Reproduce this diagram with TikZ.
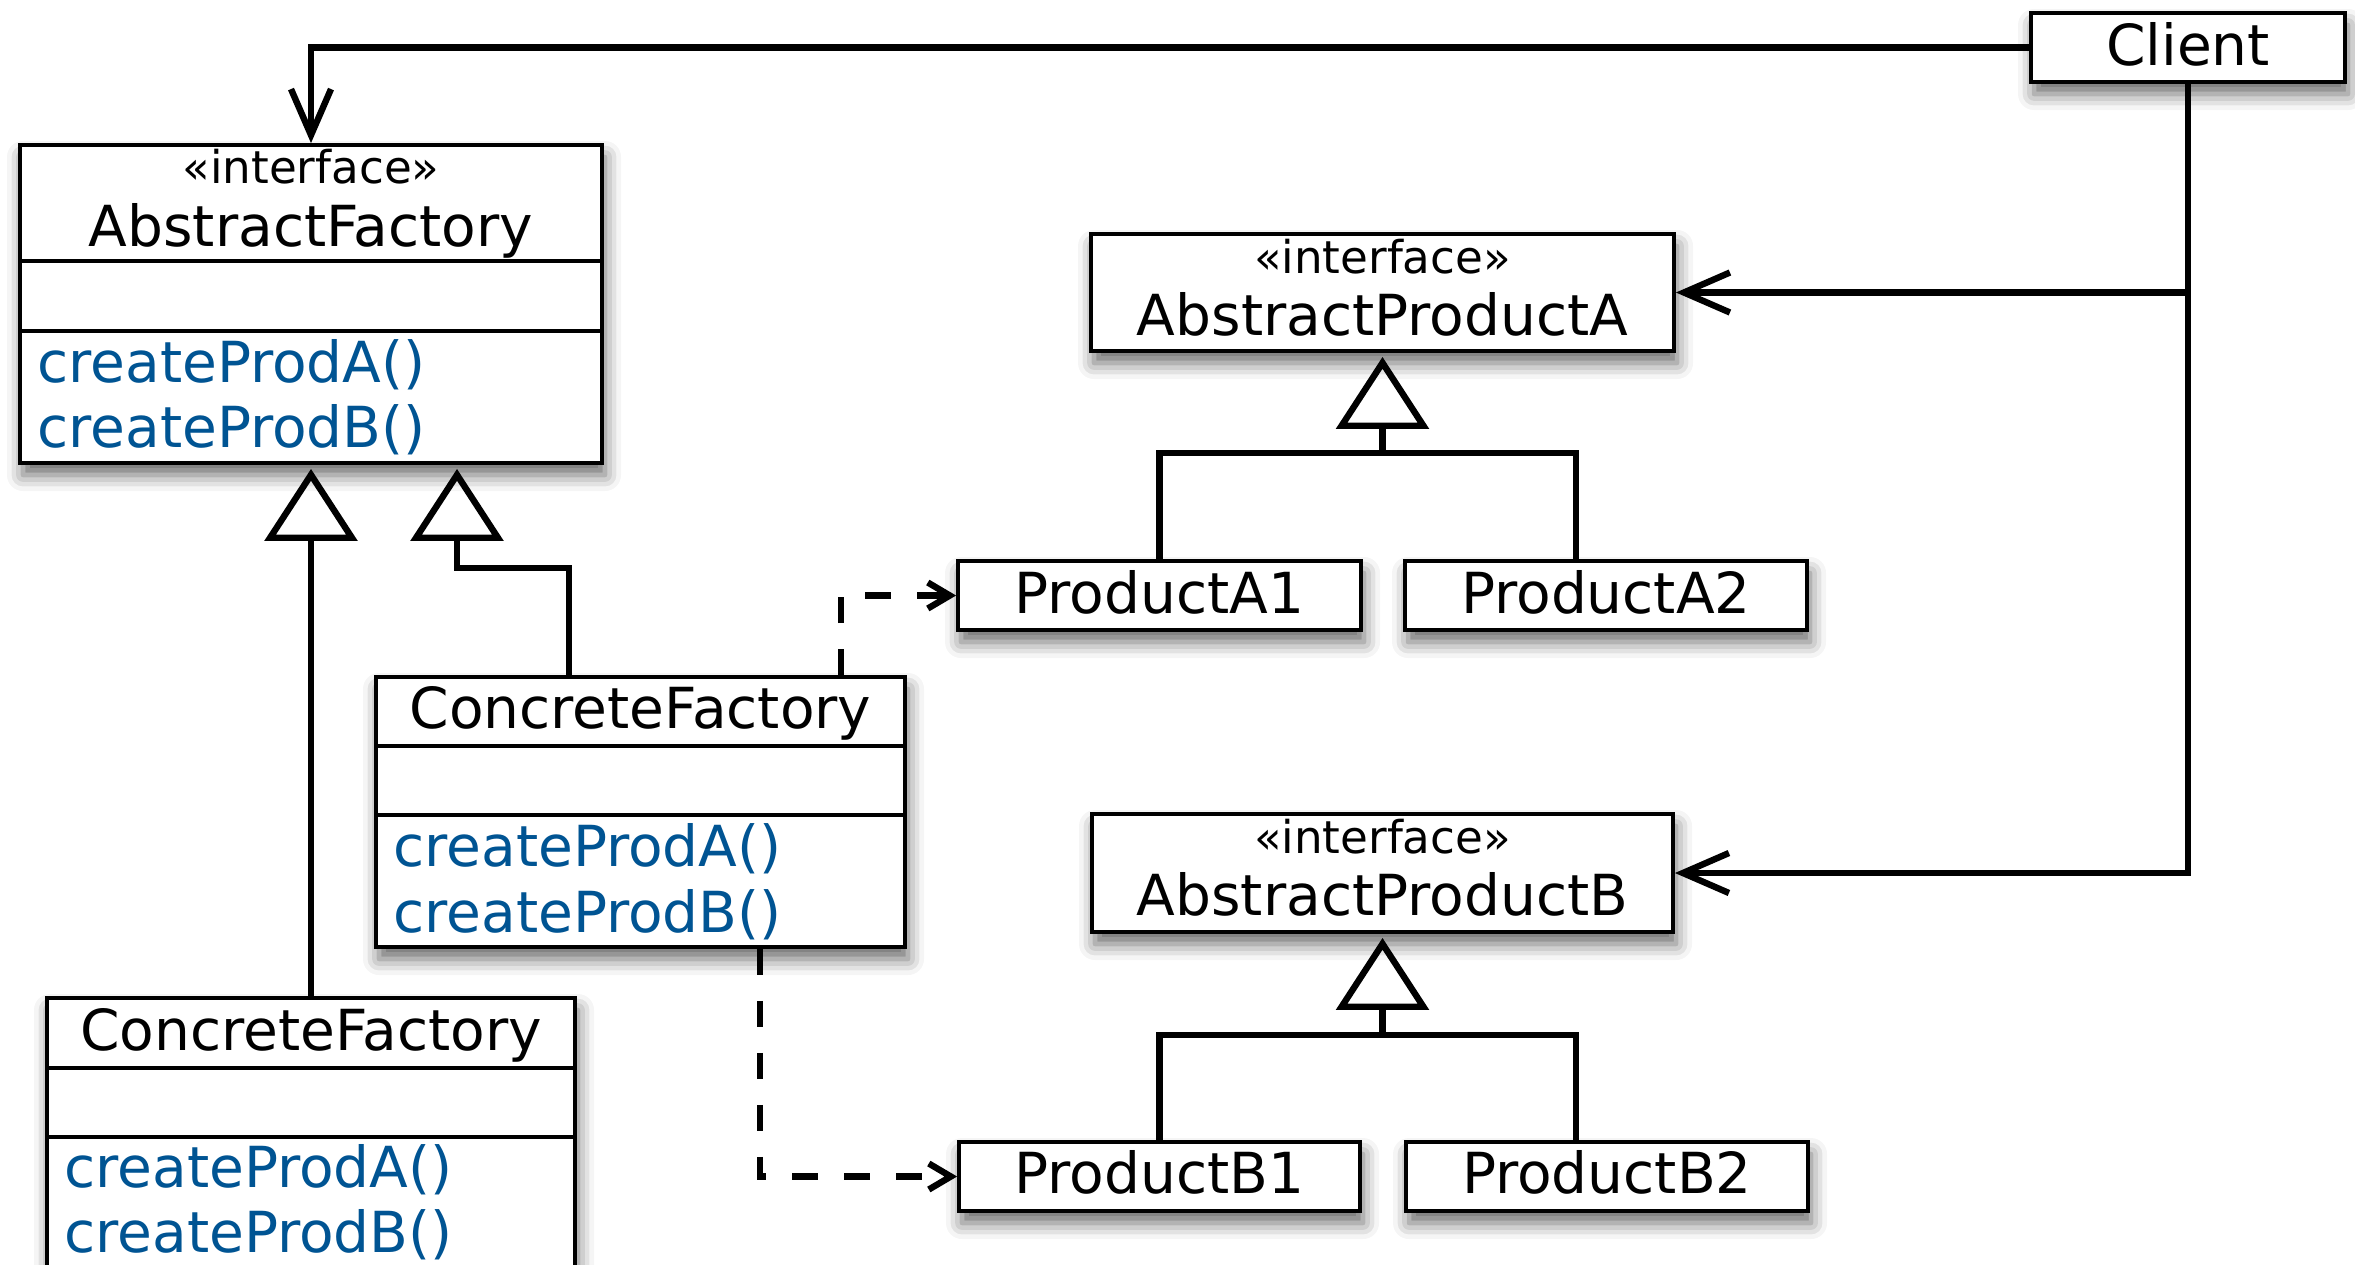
\documentclass[tikz,border=0pt]{standalone}
\usepackage{fontspec}
\setmainfont{DejaVu Sans}
\usetikzlibrary{arrows.meta,fit,shadows.blur}
\definecolor{methblue}{RGB}{0,84,147}
\tikzset{
  box/.style={draw, line width=1.9pt, fill=white, inner sep=0pt,
    blur shadow={shadow xshift=1.5pt, shadow yshift=-6pt, shadow blur radius=8pt, shadow opacity=60}},
  sepline/.style={line width=1.7pt},
  big/.style={font=\fontsize{28.3}{33}\selectfont, inner sep=0pt},
  stereo/.style={font=\fontsize{22.6}{26}\selectfont, inner sep=0pt},
  meth/.style={big, text=methblue, anchor=base west},
  conn/.style={line width=3.2pt},
  assoc/.style={conn, -{Straight Barb[length=23pt,width=20pt]}},
  gen/.style={conn, -{Triangle[open,length=36pt,width=46pt]}, shorten >=2pt},
  dep/.style={conn, dash pattern=on 13pt off 13pt, -{Straight Barb[length=11pt,width=13pt]}},
}
\begin{document}
\begin{tikzpicture}[x=0.5pt,y=-0.5pt]
\useasboundingbox (0,0) rectangle (2355,1264);

% boxes
\node[box, fit={(2031,13) (2345,82)}] (client) {};
\node[box, fit={(20,145) (602,463)}] (af) {};
\node[box, fit={(376,677) (905,947)}] (cf1) {};
\node[box, fit={(47,998) (575,1300)}] (cf2) {};
\node[box, fit={(1091,234) (1674,351)}] (apa) {};
\node[box, fit={(958,561) (1361,630)}] (pa1) {};
\node[box, fit={(1405,561) (1807,630)}] (pa2) {};
\node[box, fit={(1092,814) (1673,932)}] (apb) {};
\node[box, fit={(959,1142) (1360,1211)}] (pb1) {};
\node[box, fit={(1406,1142) (1808,1211)}] (pb2) {};

% compartments
\draw[sepline] (af.west |- 0,261) -- (af.east |- 0,261);
\draw[sepline] (af.west |- 0,331) -- (af.east |- 0,331);
\draw[sepline] (cf1.west |- 0,746) -- (cf1.east |- 0,746);
\draw[sepline] (cf1.west |- 0,815) -- (cf1.east |- 0,815);
\draw[sepline] (cf2.west |- 0,1068) -- (cf2.east |- 0,1068);
\draw[sepline] (cf2.west |- 0,1137) -- (cf2.east |- 0,1137);

% texts
\node[big, anchor=base] (clientt) at (2188,65) {Client};
\node[stereo, anchor=base] (afs) at (311,183) {«interface»};
\node[big, anchor=base] (aft) at (311,246) {AbstractFactory};
\node[meth] (afm1) at (37,382) {createProdA()};
\node[meth] (afm2) at (37,447) {createProdB()};
\node[big, anchor=base] (cf1t) at (640.5,728) {ConcreteFactory};
\node[meth] (cf1m1) at (393,866) {createProdA()};
\node[meth] (cf1m2) at (393,932) {createProdB()};
\node[big, anchor=base] (cf2t) at (311,1050) {ConcreteFactory};
\node[meth] (cf2m1) at (64,1187) {createProdA()};
\node[meth] (cf2m2) at (64,1252) {createProdB()};
\node[stereo, anchor=base] (apas) at (1382.5,273) {«interface»};
\node[big, anchor=base] (apat) at (1382.5,335) {AbstractProductA};
\node[stereo, anchor=base] (apbs) at (1382.5,853) {«interface»};
\node[big, anchor=base] (apbt) at (1382.5,915) {AbstractProductB};
\node[big, anchor=base] (pa1t) at (1159.5,613) {ProductA1};
\node[big, anchor=base] (pa2t) at (1606,613) {ProductA2};
\node[big, anchor=base] (pb1t) at (1159.5,1193) {ProductB1};
\node[big, anchor=base] (pb2t) at (1607,1193) {ProductB2};

% associations from Client
\draw[assoc] (client.west) -| (af.north);
\draw[assoc] (client.south) |- (apa.east);
\draw[assoc] (client.south) |- (apb.east);

% generalizations to AbstractFactory
\draw[gen] (cf2.north) -- (af.south);
\draw[gen] (cf1.north -| 569,0) -- (569,568) -- (457,568) -- (af.south -| 457,0);

% product A hierarchy
\draw[conn] (pa1.north) -- (1159.5,453) -- (1576,453) -- (pa2.north -| 1576,0);
\draw[gen] (apa.south |- 0,453) -- (apa.south);
% product B hierarchy
\draw[conn] (pb1.north) -- (1159.5,1035) -- (1576,1035) -- (pb2.north -| 1576,0);
\draw[gen] (apb.south |- 0,1035) -- (apb.south);

% dependencies
\draw[dep] (cf1.north -| 841,0) |- (pa1.west);
\draw[dep] (cf1.south -| 760,0) |- (pb1.west);
\end{tikzpicture}
\end{document}
